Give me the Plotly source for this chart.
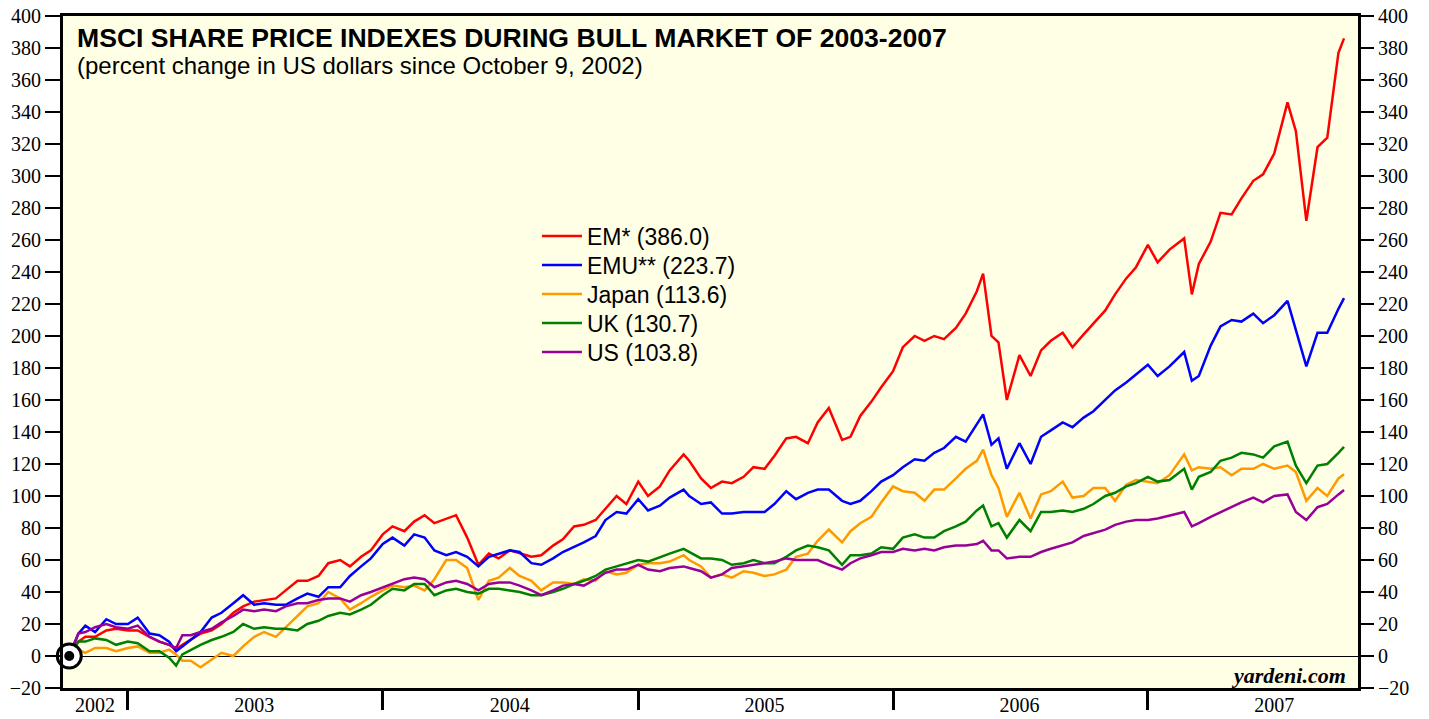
import plotly.graph_objects as go

dates = [
    "2002-10-09", "2002-10-22", "2002-11-01", "2002-11-15", "2002-12-01", "2002-12-15",
    "2003-01-01", "2003-01-15", "2003-02-01", "2003-02-15", "2003-03-01", "2003-03-11", "2003-03-20",
    "2003-04-01", "2003-04-15", "2003-05-01", "2003-05-15", "2003-06-01", "2003-06-15", "2003-07-01",
    "2003-07-15", "2003-08-01", "2003-08-15", "2003-09-01", "2003-09-15", "2003-10-01", "2003-10-15",
    "2003-11-01", "2003-11-15", "2003-12-01", "2003-12-15",
    "2004-01-01", "2004-01-15", "2004-02-01", "2004-02-15", "2004-03-01", "2004-03-15", "2004-04-01",
    "2004-04-15", "2004-05-01", "2004-05-17", "2004-06-01", "2004-06-15", "2004-07-01", "2004-07-15",
    "2004-08-01", "2004-08-15", "2004-09-01", "2004-09-15", "2004-10-01", "2004-10-15", "2004-11-01",
    "2004-11-15", "2004-12-01", "2004-12-15",
    "2005-01-01", "2005-01-15", "2005-02-01", "2005-02-15", "2005-03-07", "2005-03-15", "2005-04-01",
    "2005-04-15", "2005-05-01", "2005-05-15", "2005-06-01", "2005-06-15", "2005-07-01", "2005-07-15",
    "2005-08-01", "2005-08-15", "2005-09-01", "2005-09-15", "2005-10-01", "2005-10-20", "2005-11-01",
    "2005-11-15", "2005-12-01", "2005-12-15",
    "2006-01-01", "2006-01-15", "2006-02-01", "2006-02-15", "2006-03-01", "2006-03-15", "2006-04-01",
    "2006-04-15", "2006-05-01", "2006-05-10", "2006-05-22", "2006-06-01", "2006-06-13", "2006-07-01",
    "2006-07-17", "2006-08-01", "2006-08-15", "2006-09-01", "2006-09-15", "2006-10-01", "2006-10-15",
    "2006-11-01", "2006-11-15", "2006-12-01", "2006-12-15",
    "2007-01-01", "2007-01-15", "2007-02-01", "2007-02-22", "2007-03-05", "2007-03-15", "2007-04-01",
    "2007-04-15", "2007-05-01", "2007-05-15", "2007-06-01", "2007-06-15", "2007-07-01", "2007-07-20",
    "2007-08-01", "2007-08-16", "2007-09-01", "2007-09-15", "2007-10-01", "2007-10-09",
]

em = [
    0, 9, 12, 12, 16, 17,
    16, 16, 12, 9, 7, 4, 7, 10, 14, 16, 20, 27, 31, 34, 35, 36, 41, 47, 47, 50, 58, 60, 56, 62, 66,
    76, 81, 78, 84, 88, 83, 86, 88, 74, 57, 64, 61, 66, 64, 62, 63, 69, 73, 81, 82, 85, 92, 100, 95,
    109, 100, 106, 116, 126, 122, 111, 105, 109, 108, 112, 118, 117, 125, 136, 137, 133, 146, 155, 135,
    137, 150, 159, 168,
    178, 193, 200, 197, 200, 198, 205, 214, 228, 239, 200, 196, 160, 188, 175, 191, 197, 202, 193, 201,
    208, 216, 226, 236, 243,
    257, 246, 254, 261, 226, 245, 259, 277, 276, 286, 297, 301, 314, 346, 328, 272, 318, 324, 377, 386.0,
]

emu = [
    0, 14, 19, 15, 23, 20,
    20, 24, 14, 13, 9, 3, 6, 10, 15, 24, 27, 33, 38, 32, 33, 32, 32, 36, 39, 37, 43, 43, 50, 56, 61,
    70, 74, 69, 76, 74, 66, 63, 65, 62, 56, 62, 64, 66, 65, 58, 57, 61, 65, 68, 71, 75, 85, 90, 89,
    98, 91, 94, 99, 104, 100, 95, 96, 89, 89, 90, 90, 90, 95, 103, 98, 102, 104, 104, 97, 95, 97, 103, 109,
    113, 118, 123, 122, 127, 130, 137, 134, 145, 151, 132, 136, 117, 133, 120, 137, 141, 146, 143, 149,
    153, 160, 166, 171, 176,
    182, 175, 181, 190, 172, 175, 194, 206, 210, 209, 214, 208, 213, 222, 203, 181, 202, 202, 217, 223.7,
]

japan = [
    0, 4, 2, 5, 5, 3,
    5, 6, 2, 2, 4, 1, -3, -3, -7, -2, 2, 0, 6, 12, 15, 12, 18, 25, 31, 33, 40, 36, 29, 33, 37,
    41, 44, 43, 44, 41, 48, 60, 60, 55, 35, 47, 49, 55, 50, 47, 41, 46, 46, 45, 48, 47, 53, 51, 52,
    57, 58, 58, 59, 63, 60, 56, 49, 51, 49, 53, 52, 50, 51, 54, 62, 64, 72, 79, 71, 78, 83, 87, 96,
    106, 103, 102, 97, 104, 104, 111, 117, 122, 129, 113, 105, 87, 102, 86, 101, 103, 109, 99, 100,
    105, 105, 97, 107, 110,
    109, 108, 113, 126, 116, 118, 117, 118, 113, 117, 117, 120, 117, 119, 115, 97, 105, 100, 111, 113.6,
]

uk = [
    0, 9, 9, 11, 10, 7,
    9, 8, 3, 3, -1, -6, 1, 4, 7, 10, 12, 15, 20, 17, 18, 17, 17, 16, 20, 22, 25, 27, 26, 29, 32,
    38, 42, 41, 45, 45, 38, 41, 42, 40, 39, 42, 42, 41, 40, 38, 38, 40, 42, 45, 47, 50, 54, 56, 58,
    60, 59, 62, 64, 67, 65, 61, 61, 60, 57, 58, 60, 58, 58, 62, 66, 69, 68, 66, 57, 63, 63, 64, 68,
    67, 74, 76, 74, 74, 78, 81, 84, 91, 94, 81, 83, 74, 85, 78, 90, 90, 91, 90, 92,
    95, 100, 102, 106, 108,
    112, 109, 110, 117, 104, 112, 115, 122, 124, 127, 126, 124, 131, 134, 119, 108, 119, 120, 127, 130.7,
]

us = [
    0, 14, 15, 18, 20, 18,
    17, 19, 12, 9, 7, 5, 13, 13, 15, 17, 21, 25, 29, 28, 29, 28, 31, 33, 33, 35, 36, 36, 34, 38, 40,
    43, 45, 48, 49, 48, 43, 46, 47, 45, 41, 45, 46, 46, 44, 41, 38, 41, 44, 45, 44, 48, 52, 54, 54,
    57, 54, 53, 55, 56, 55, 53, 49, 51, 55, 56, 57, 58, 59, 61, 60, 60, 60, 57, 54, 58, 61, 63, 65,
    65, 67, 66, 67, 66, 68, 69, 69, 70, 72, 66, 66, 61, 62, 62, 65, 67, 69, 71, 75,
    77, 79, 82, 84, 85,
    85, 86, 88, 90, 81, 83, 87, 90, 93, 96, 99, 96, 100, 101, 90, 85, 93, 95, 101, 103.8,
]

series_names = ["EM* (386.0)", "EMU** (223.7)", "Japan (113.6)", "UK (130.7)", "US (103.8)"]
series_values = [em, emu, japan, uk, us]
series_colors = ["#FF0000", "#0000FF", "#FF9900", "#008000", "#990099"]

year_labels = ["2002", "2003", "2004", "2005", "2006", "2007"]
year_label_pos = ["2002-11-15", "2003-07-01", "2004-07-01", "2005-07-01", "2006-07-01", "2007-07-01"]
year_starts = ["2003-01-01", "2004-01-01", "2005-01-01", "2006-01-01", "2007-01-01"]
y_ticks = list(range(-20, 401, 20))

serif = "Liberation Serif, Times New Roman, serif"
sans = "Liberation Sans, Arial, sans-serif"

fig = go.Figure()
legend_ids = ["legend", "legend2", "legend3", "legend4", "legend5"]
for name, vals, color, lid in zip(series_names, series_values, series_colors, legend_ids):
    fig.add_trace(go.Scatter(x=dates, y=vals, mode="lines", name=name, legend=lid,
                             line=dict(color=color, width=2.5)))

# origin marker (October 9, 2002)
fig.add_trace(go.Scatter(x=[dates[0]], y=[0], mode="markers", showlegend=False, hoverinfo="skip",
                         cliponaxis=False,
                         marker=dict(size=24, color="white", line=dict(color="black", width=3))))
fig.add_trace(go.Scatter(x=[dates[0]], y=[0], mode="markers", showlegend=False, hoverinfo="skip",
                         cliponaxis=False, marker=dict(size=10, color="black")))
# invisible trace to show right axis
fig.add_trace(go.Scatter(x=[dates[0]], y=[0], yaxis="y2", mode="markers", showlegend=False,
                         hoverinfo="skip", marker=dict(opacity=0)))

# legends: one row each, 29 px apart (plot area is 672 px tall, bottom at 688 px)
legend_rows = [236, 265, 294, 323, 352]
legend_layout = {}
for lid, row in zip(legend_ids, legend_rows):
    legend_layout[lid] = dict(x=0.366, y=(688 - row) / 672, xanchor="left", yanchor="middle",
                              bgcolor="rgba(0,0,0,0)", itemwidth=40,
                              font=dict(family=sans, size=23, color="black"))

fig.update_layout(
    width=1429, height=719,
    margin=dict(l=63, r=71, t=16, b=31),
    paper_bgcolor="white", plot_bgcolor="#FFFFE6",
    showlegend=True,
    xaxis=dict(type="date", range=["2002-09-30", "2007-10-29"], showgrid=False, zeroline=False,
               automargin=False,
               showline=True, linecolor="black", linewidth=3, mirror=True,
               tickmode="array", tickvals=year_label_pos, ticktext=year_labels,
               ticks="outside", ticklen=0, tickcolor="black", ticklabelstandoff=-3,
               tickfont=dict(family=serif, size=20, color="black"),
               minor=dict(tickmode="array", tickvals=year_starts, ticks="outside", ticklen=19,
                          tickwidth=3, tickcolor="black", showgrid=False)),
    yaxis=dict(range=[-20, 400], tickmode="array", tickvals=y_ticks, ticks="outside", ticklen=15,
               automargin=False,
               tickwidth=2, tickcolor="black", showgrid=False, showline=True, linecolor="black",
               linewidth=3, mirror=True, zeroline=True, zerolinecolor="black", zerolinewidth=1,
               tickfont=dict(family=serif, size=20, color="black")),
    yaxis2=dict(overlaying="y", side="right", range=[-20, 400], tickmode="array", tickvals=y_ticks,
                automargin=False,
                ticks="outside", ticklen=15, tickwidth=2, tickcolor="black", showgrid=False,
                showline=False, zeroline=False,
                tickfont=dict(family=serif, size=20, color="black")),
    annotations=[
        dict(text="<b>MSCI SHARE PRICE INDEXES DURING BULL MARKET OF 2003-2007</b>",
             xref="paper", yref="paper", x=0.0093, y=0.967, xanchor="left", yanchor="middle",
             showarrow=False, font=dict(family=sans, size=26.6, color="black")),
        dict(text="(percent change in US dollars since October 9, 2002)",
             xref="paper", yref="paper", x=0.0093, y=0.9256, xanchor="left", yanchor="middle",
             showarrow=False, font=dict(family=sans, size=24, color="black")),
        dict(text="<b><i>yardeni.com</i></b>",
             xref="paper", yref="paper", x=0.9923, y=0.0193, xanchor="right", yanchor="middle",
             showarrow=False, font=dict(family=serif, size=22, color="black")),
    ],
    **legend_layout,
)

fig.write_html("out.html", config={"displayModeBar": False},
               post_script="document.body.style.margin='0';document.body.style.overflow='hidden';")
